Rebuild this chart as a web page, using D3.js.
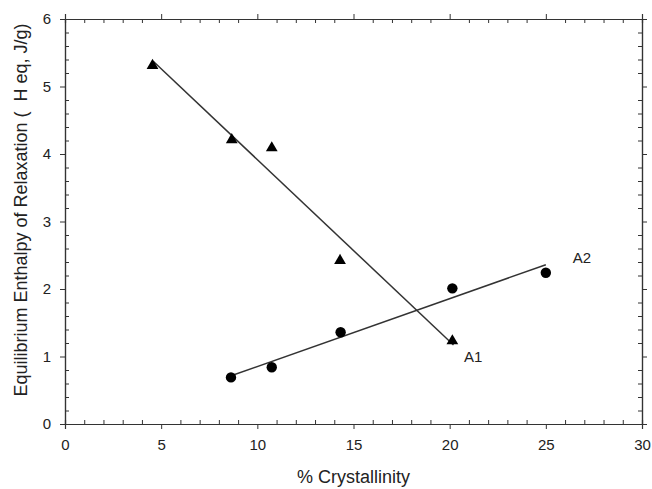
<!DOCTYPE html>
<html>
<head>
<meta charset="utf-8">
<script src="https://cdn.jsdelivr.net/npm/d3@7"></script>
<style>
  body { margin: 0; background: #fff; }
  svg { font-family: "Liberation Sans", Arial, sans-serif; }
  .axis path, .axis line { stroke: #333; }
</style>
</head>
<body>
<svg width="652" height="489"></svg>
<script>
// A1 series (triangles)
const a1X = [4.55, 8.67, 10.75, 14.3, 20.14];
const a1Y = [5.31, 4.21, 4.09, 2.42, 1.23];
// A2 series (circles)
const a2X = [8.63, 10.75, 14.33, 20.14, 25.0];
const a2Y = [0.69, 0.84, 1.36, 2.01, 2.24];
// fitted lines, endpoints
const fitA1 = [[4.6, 5.37], [20.2, 1.17]];
const fitA2 = [[8.6, 0.71], [25.0, 2.36]];

const xTicks = [0, 5, 10, 15, 20, 25, 30];
const yTicks = [0, 1, 2, 3, 4, 5, 6];

const svg = d3.select("svg"),
    margin = {top: 19, right: 10, bottom: 65, left: 65},
    width = +svg.attr("width") - margin.left - margin.right,
    height = +svg.attr("height") - margin.top - margin.bottom;

const x = d3.scaleLinear().domain([0, 30]).range([0, width]),
    y = d3.scaleLinear().domain([0, 6]).range([height, 0]);

const g = svg.append("g")
    .attr("transform", `translate(${margin.left},${margin.top})`);

const xMinor = d3.range(0, 31, 1).filter(v => v % 5 !== 0);
const yMinor = d3.range(0, 31, 1).map(v => v / 5).filter((v, i) => i % 5 !== 0);

// major ticks (outward) with labels
const xAxis = g.append("g").attr("class", "axis")
    .attr("transform", `translate(0,${height})`)
    .call(d3.axisBottom(x).tickValues(xTicks).tickSize(5).tickPadding(10).tickFormat(d3.format("d")));
const yAxis = g.append("g").attr("class", "axis")
    .call(d3.axisLeft(y).tickValues(yTicks).tickSize(5).tickPadding(9).tickFormat(d3.format("d")));
g.append("g").attr("class", "axis")
    .call(d3.axisTop(x).tickValues(xTicks).tickSize(5).tickFormat(""));
g.append("g").attr("class", "axis")
    .attr("transform", `translate(${width},0)`)
    .call(d3.axisRight(y).tickValues(yTicks).tickSize(5).tickFormat(""));

[xAxis, yAxis].forEach(a => a.selectAll("text")
    .style("font-size", "15px")
    .style("font-family", "'Liberation Sans', Arial, sans-serif")
    .attr("fill", "#222"));

// minor ticks (inward)
g.append("g").attr("class", "axis")
    .attr("transform", `translate(0,${height})`)
    .call(d3.axisBottom(x).tickValues(xMinor).tickSize(-4).tickFormat(""));
g.append("g").attr("class", "axis")
    .call(d3.axisTop(x).tickValues(xMinor).tickSize(-4).tickFormat(""));
g.append("g").attr("class", "axis")
    .call(d3.axisLeft(y).tickValues(yMinor).tickSize(-4).tickFormat(""));
g.append("g").attr("class", "axis")
    .attr("transform", `translate(${width},0)`)
    .call(d3.axisRight(y).tickValues(yMinor).tickSize(-4).tickFormat(""));

g.selectAll(".axis path").attr("stroke-width", 1.2);

// axis titles
svg.append("text")
    .attr("x", margin.left + width / 2)
    .attr("y", 483)
    .attr("text-anchor", "middle")
    .style("font-size", "18px")
    .attr("fill", "#222")
    .text("% Crystallinity");

svg.append("text")
    .attr("transform", "rotate(-90)")
    .attr("x", -210)
    .attr("y", 27)
    .attr("text-anchor", "middle")
    .style("font-size", "18px")
    .style("white-space", "pre")
    .attr("fill", "#222")
    .text("Equilibrium Enthalpy of Relaxation (  H eq, J/g)");

// fit lines
const line = d3.line().x(d => x(d[0])).y(d => y(d[1]));
[fitA1, fitA2].forEach(f => {
    g.append("path")
        .attr("d", line(f))
        .attr("fill", "none")
        .attr("stroke", "#333")
        .attr("stroke-width", 1.5);
});

// markers
const a1 = a1X.map((v, i) => [v, a1Y[i]]);
const a2 = a2X.map((v, i) => [v, a2Y[i]]);

g.selectAll(".tri")
    .data(a1)
    .enter().append("path")
    .attr("class", "tri")
    .attr("transform", d => `translate(${x(d[0])},${y(d[1])})`)
    .attr("d", d3.symbol().type(d3.symbolTriangle).size(60))
    .attr("fill", "#000");

g.selectAll(".dot")
    .data(a2)
    .enter().append("circle")
    .attr("class", "dot")
    .attr("cx", d => x(d[0]))
    .attr("cy", d => y(d[1]))
    .attr("r", 5.2)
    .attr("fill", "#000");

// series labels
g.append("text")
    .attr("x", x(20.75))
    .attr("y", y(0.92))
    .style("font-size", "15px")
    .attr("fill", "#222")
    .text("A1");

g.append("text")
    .attr("x", x(26.4))
    .attr("y", y(2.38))
    .style("font-size", "15px")
    .attr("fill", "#222")
    .text("A2");
</script>
</body>
</html>
